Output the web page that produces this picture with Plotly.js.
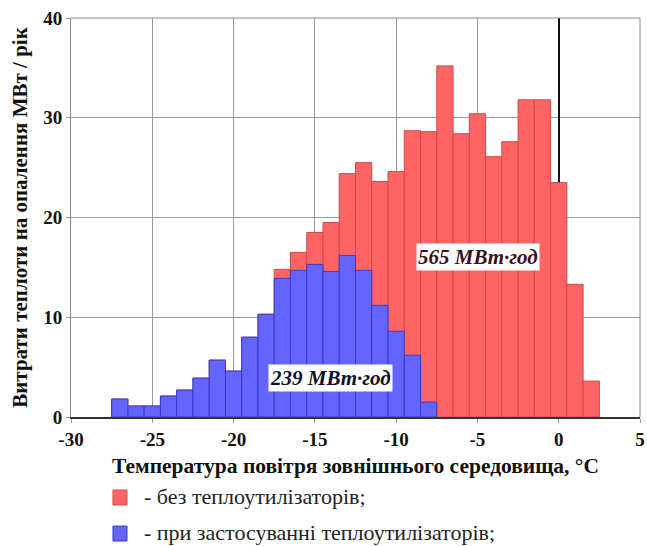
<!DOCTYPE html>
<html>
<head>
<meta charset="utf-8">
<script src="https://cdn.plot.ly/plotly-3.0.1.min.js"></script>
<style>html,body{margin:0;padding:0;background:#fff;}#chart{width:647px;height:546px;}</style>
</head>
<body>
<div id="chart"></div>
<script>
// Temperature bins (°C), centres of 1-degree bins
const temps = [-27,-26,-25,-24,-23,-22,-21,-20,-19,-18,-17,-16,-15,-14,-13,-12,-11,-10,-9,-8,-7,-6,-5,-4,-3,-2,-1,0,1,2];
// Without heat recovery (red)
const withoutRecovery = [1.8,1.1,1.1,2.1,2.7,3.9,5.7,4.6,8.0,10.3,14.8,16.5,18.5,19.5,24.4,25.5,23.6,24.6,28.7,28.6,35.2,28.4,30.4,26.1,27.6,31.8,31.8,23.5,13.3,3.6];
// With heat recovery (blue)
const withRecovery = [1.8,1.1,1.1,2.1,2.7,3.9,5.7,4.6,8.0,10.3,13.9,14.7,15.3,14.6,16.2,14.7,11.2,8.6,6.2,1.5,null,null,null,null,null,null,null,null,null,null];
const seriesNames = ['- без теплоутилізаторів;', '- при застосуванні теплоутилізаторів;'];
const xTickVals = [-30,-25,-20,-15,-10,-5,0,5];
const xTickText = ['-30','-25','-20','-15','-10','-5','0','5'];
const yTickVals = [0,10,20,30,40];
const totals = ['565 МВт·год', '239 МВт·год'];

const serif = '"Liberation Serif"';
const fills = ['#ff6464', '#6464ff'];
const edges = ['#d04848', '#3a3ac8'];

const traces = [
  {
    type: 'bar', x: temps, y: withoutRecovery, name: seriesNames[0], width: 1,
    marker: {color: fills[0], line: {color: edges[0], width: 1}}
  },
  {
    type: 'bar', x: temps, y: withRecovery, name: seriesNames[1], width: 1,
    marker: {color: fills[1], line: {color: edges[1], width: 1}}
  }
];

// Legend drawn below the plot (paper coordinates, does not push margins)
const legendRows = [{y0: -0.2206, y1: -0.183, ty: -0.2005}, {y0: -0.3108, y1: -0.2732, ty: -0.2907}];
const legendShapes = legendRows.map((r, i) => ({
  type: 'rect', xref: 'paper', yref: 'paper', x0: 0.0738, x1: 0.0984, y0: r.y0, y1: r.y1,
  fillcolor: fills[i], line: {color: edges[i], width: 1}
}));
const legendTexts = legendRows.map((r, i) => ({
  xref: 'paper', yref: 'paper', x: 0.1248, y: r.ty, xanchor: 'left', yanchor: 'middle',
  text: seriesNames[i], showarrow: false, font: {family: serif, size: 22, color: '#222'}
}));

const layout = {
  width: 647, height: 546,
  margin: {l: 71, r: 7, t: 18, b: 129},
  paper_bgcolor: '#fff', plot_bgcolor: '#fff',
  barmode: 'overlay', bargap: 0,
  showlegend: false,
  font: {family: serif},
  xaxis: {
    range: [-30, 5], tickvals: xTickVals, ticktext: xTickText,
    automargin: false,
    showgrid: true, gridcolor: '#9a9a9a', gridwidth: 1,
    zeroline: true, zerolinecolor: '#111', zerolinewidth: 2,
    showline: true, linecolor: '#333', linewidth: 2, mirror: false,
    ticks: 'outside', ticklen: 4, tickcolor: '#999',
    tickfont: {family: serif, size: 19, color: '#111', weight: 'bold'},
    title: {text: 'Температура повітря зовнішнього середовища, °С',
            font: {family: serif, size: 21.5, color: '#111', weight: 'bold'}, standoff: 9},
    fixedrange: true
  },
  yaxis: {
    range: [0, 40], tickvals: yTickVals,
    automargin: false,
    showgrid: true, gridcolor: '#9a9a9a', gridwidth: 1,
    zeroline: false,
    showline: true, linecolor: '#8a8a8a', linewidth: 1, mirror: false,
    ticks: 'outside', ticklen: 4, tickcolor: '#999',
    tickfont: {family: serif, size: 19, color: '#111', weight: 'bold'},
    title: {text: 'Витрати теплоти на опалення МВт / рік',
            font: {family: serif, size: 21, color: '#111', weight: 'bold'}, standoff: 9},
    fixedrange: true
  },
  shapes: [
    {type: 'line', xref: 'paper', yref: 'paper', x0: 0, x1: 1, y0: 1, y1: 1, line: {color: '#8a8a8a', width: 1}},
    {type: 'line', xref: 'paper', yref: 'paper', x0: 1, x1: 1, y0: 0, y1: 1, line: {color: '#8a8a8a', width: 1}}
  ].concat(legendShapes),
  annotations: [
    {x: -4.95, y: 16.0, xref: 'x', yref: 'y', text: '<b><i>' + totals[0] + '</i></b>', showarrow: false,
     font: {family: serif, size: 21, color: '#3a1020'}, bgcolor: '#fff', borderpad: 1},
    {x: -14.05, y: 3.9, xref: 'x', yref: 'y', text: '<b><i>' + totals[1] + '</i></b>', showarrow: false,
     font: {family: serif, size: 21, color: '#10102a'}, bgcolor: '#fff', borderpad: 1}
  ].concat(legendTexts)
};

Plotly.newPlot('chart', traces, layout, {displayModeBar: false, staticPlot: true});
</script>
</body>
</html>
